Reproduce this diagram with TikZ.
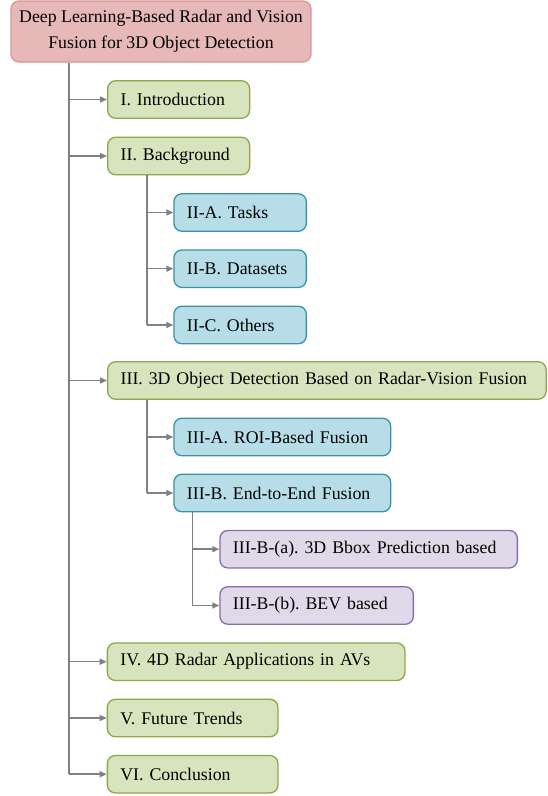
\documentclass[tikz,border=0pt]{standalone}
\usepackage{fontspec}
\setmainfont{Liberation Serif}
\usepackage{tikz}
\usetikzlibrary{arrows.meta}
\frenchspacing

\definecolor{rootfill}{HTML}{E6B8B7}
\definecolor{rootline}{HTML}{D99694}
\definecolor{secfill}{HTML}{D7E4BD}
\definecolor{secline}{HTML}{8AA84E}
\definecolor{subfill}{HTML}{B7DEE8}
\definecolor{subline}{HTML}{3B92A8}
\definecolor{leaffill}{HTML}{E0D9EA}
\definecolor{leafline}{HTML}{8A6BAE}
\definecolor{linkgray}{HTML}{808080}

\begin{document}
\begin{tikzpicture}[x=1pt,y=-1pt]
          \tikzset{box/.style={draw,line width=1.3pt,rounded corners=8pt,anchor=west,
                     inner xsep=13pt,inner ysep=0pt,minimum height=37.5pt,align=left,
                     font=\fontsize{17.8}{26}\selectfont},
                   sec/.style={box,fill=secfill,draw=secline},
                   sub/.style={box,fill=subfill,draw=subline},
                   leaf/.style={box,fill=leaffill,draw=leafline},
                   trunk/.style={draw=linkgray,line width=1.5pt},
                   arr/.style={trunk,-{Triangle[length=7pt,width=6pt]}}}
          \useasboundingbox (0,0) rectangle (548,796);

          \node[draw=rootline,fill=rootfill,line width=1.3pt,rounded corners=8pt,
                minimum width=300pt,minimum height=61pt,align=center,
                font=\fontsize{17.8}{26}\selectfont] (root) at (161,31.5)
                {Deep Learning-Based Radar and Vision\\Fusion for 3D Object Detection};

          % sections
          \node[sec,text width=116pt] (intro) at (107,99.5) {I. Introduction};
          \node[sec,text width=116pt] (backgr) at (107,156) {II. Background};
          \node[sub,text width=106.4pt] (tasks) at (173.3,212.5) {II-A. Tasks};
          \node[sub,text width=106.4pt] (datasets) at (173.3,268.7) {II-B. Datasets};
          \node[sub,text width=106.4pt] (others) at (173.3,325) {II-C. Others};
          \node[sec,text width=412.5pt] (detect) at (107,380.5) {III. 3D Object Detection Based on Radar-Vision Fusion};
          \node[sub,text width=190.7pt] (roi) at (173.3,437) {III-A. ROI-Based Fusion};
          \node[sub,text width=190.7pt] (e2e) at (173.3,493) {III-B. End-to-End Fusion};
          \node[leaf,text width=271.4pt] (bbox) at (219.3,549.2) {III-B-(a). 3D Bbox Prediction based};
          \node[leaf,text width=167.4pt] (bev) at (219.3,605.5) {III-B-(b). BEV based};
          \node[sec,text width=271.6pt] (apps) at (106.7,661.7) {IV. 4D Radar Applications in AVs};
          \node[sec,text width=144.6pt] (trends) at (106.7,718) {V. Future Trends};
          \node[sec,text width=144.6pt] (concl) at (106.7,774.2) {VI. Conclusion};

          \coordinate (t0) at (69,0);
          \coordinate (t1) at (147,0);
          \coordinate (t2) at (192.3,0);

          % tree lines
          \draw[trunk] (root.south -| t0) -- (concl.west -| t0);
          \foreach \n in {intro,backgr,detect,apps,trends,concl}
            \draw[arr] (\n.west -| t0) -- (\n.west);
          \draw[trunk] (backgr.south -| t1) -- (others.west -| t1);
          \foreach \n in {tasks,datasets,others}
            \draw[arr] (\n.west -| t1) -- (\n.west);
          \draw[trunk] (detect.south -| t1) -- (e2e.west -| t1);
          \foreach \n in {roi,e2e}
            \draw[arr] (\n.west -| t1) -- (\n.west);
          \draw[trunk] (e2e.south -| t2) -- (bev.west -| t2);
          \foreach \n in {bbox,bev}
            \draw[arr] (\n.west -| t2) -- (\n.west);
        \end{tikzpicture}
\end{document}
